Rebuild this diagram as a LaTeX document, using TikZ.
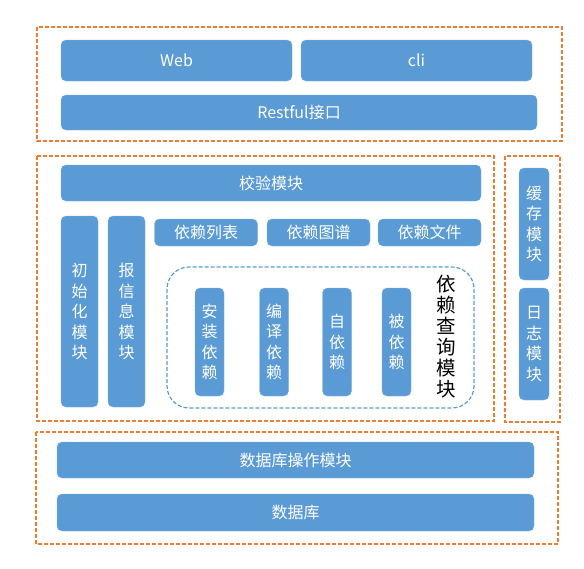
\documentclass[tikz,border=0pt]{standalone}
\usepackage{fontspec}
\setmainfont{Noto Sans CJK SC}
\definecolor{blk}{HTML}{5B9BD5}
\definecolor{frm}{HTML}{ED7D31}
\begin{document}
\begin{tikzpicture}[x=1pt,y=-1pt,
    box/.style={fill=blk, draw=blk!80!white, rounded corners=5pt, text=white,
        font=\fontsize{16}{18}\selectfont, inner sep=0pt},
    vbox/.style={box, align=center, font=\fontsize{16}{20.5}\selectfont},
    layer/.style={draw=frm, line width=1.3pt, dash pattern=on 4pt off 2pt}]
    \useasboundingbox (0,0) rectangle (584,568);
    % outer layers
    \draw[layer] (37,27) rectangle (562,141);
    \draw[layer] (37,156) rectangle (494,421);
    \draw[layer] (505,156) rectangle (560,422);
    \draw[layer] (36,432) rectangle (558,544);
    % access layer
    \node[box, minimum width=231, minimum height=41] (web) at (176.5,60.5) {Web};
    \node[box, minimum width=231, minimum height=41] (cli) at (416.5,60.5) {cli};
    \node[box, minimum width=476, minimum height=35] (rest) at (299,112.5) {Restful接口};
    % core
    \node[box, minimum width=420, minimum height=36] (check) at (271,183) {校验模块};
    \node[vbox, minimum width=37, minimum height=191] (init) at (79.5,311.5) {初\\始\\化\\模\\块};
    \node[vbox, minimum width=37, minimum height=191] (info) at (126.5,311.5) {报\\信\\息\\模\\块};
    \foreach \x/\name/\txt in {206/list/依赖列表, 318.5/graph/依赖图谱, 429.5/file/依赖文件}
        \node[box, minimum width=103, minimum height=27] (\name) at (\x,232.5) {\txt};
    \draw[blk, line width=1.2pt, dash pattern=on 4pt off 2pt, rounded corners=22pt] (167,267) rectangle (474,408);
    \foreach \x/\name/\txt in {209.5/inst/安\\装\\依\\赖, 274/comp/编\\译\\依\\赖, 337/self/自\\依\\赖, 396.5/rev/被\\依\\赖}
        \node[vbox, minimum width=29, minimum height=108] (\name) at (\x,342) {\txt};
    \node[align=center, font=\fontsize{19.5}{21}\selectfont, inner sep=0pt] (query) at (446,337) {依\\赖\\查\\询\\模\\块};
    % side
    \node[vbox, minimum width=30, minimum height=112] (cache) at (534,224) {缓\\存\\模\\块};
    \node[vbox, minimum width=30, minimum height=112] (log) at (534,344) {日\\志\\模\\块};
    % storage
    \node[box, minimum width=477, minimum height=36] (dbop) at (295.5,460) {数据库操作模块};
    \node[box, minimum width=477, minimum height=37] (db) at (295.5,512.5) {数据库};
\end{tikzpicture}
\end{document}
